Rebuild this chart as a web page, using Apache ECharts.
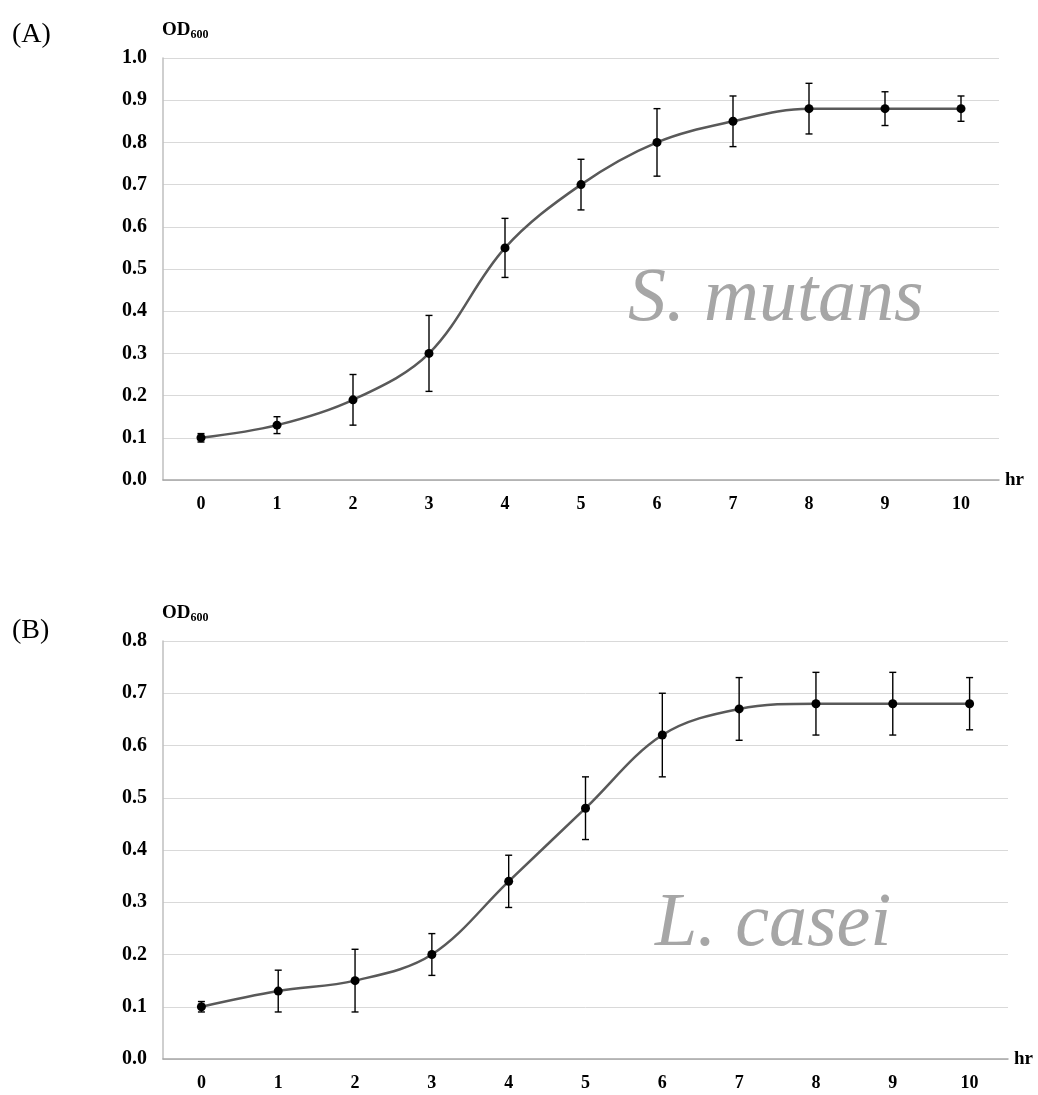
<!DOCTYPE html>
<html>
<head>
<meta charset="utf-8">
<script src="https://cdn.jsdelivr.net/npm/echarts@6/dist/echarts.min.js"></script>
<style>
html,body{margin:0;padding:0;background:#fff;}
#c{width:1038px;height:1095px;}
</style>
</head>
<body>
<div id="c"></div>
<script>
const hours = ['0','1','2','3','4','5','6','7','8','9','10'];

const mutansMean = [0.10, 0.13, 0.19, 0.30, 0.55, 0.70, 0.80, 0.85, 0.88, 0.88, 0.88];
const mutansLow  = [0.09, 0.11, 0.13, 0.21, 0.48, 0.64, 0.72, 0.79, 0.82, 0.84, 0.85];
const mutansHigh = [0.11, 0.15, 0.25, 0.39, 0.62, 0.76, 0.88, 0.91, 0.94, 0.92, 0.91];

const caseiMean = [0.10, 0.13, 0.15, 0.20, 0.34, 0.48, 0.62, 0.67, 0.68, 0.68, 0.68];
const caseiLow  = [0.09, 0.09, 0.09, 0.16, 0.29, 0.42, 0.54, 0.61, 0.62, 0.62, 0.63];
const caseiHigh = [0.11, 0.17, 0.21, 0.24, 0.39, 0.54, 0.70, 0.73, 0.74, 0.74, 0.73];

const yTicksA = {min: 0, max: 1.0, interval: 0.1};
const yTicksB = {min: 0, max: 0.8, interval: 0.1};

const FONT = "'Liberation Serif','Times New Roman',serif";

function errData(low, high) {
  return hours.map((h, i) => [i, low[i], high[i]]);
}

function errRender(params, api) {
  const x = api.value(0);
  const lo = api.coord([x, api.value(1)]);
  const hi = api.coord([x, api.value(2)]);
  const cap = 3.5;
  const st = {stroke: '#000', lineWidth: 1.4};
  return {
    type: 'group',
    children: [
      {type: 'line', shape: {x1: lo[0], y1: lo[1], x2: hi[0], y2: hi[1]}, style: st},
      {type: 'line', shape: {x1: lo[0]-cap, y1: lo[1], x2: lo[0]+cap, y2: lo[1]}, style: st},
      {type: 'line', shape: {x1: hi[0]-cap, y1: hi[1], x2: hi[0]+cap, y2: hi[1]}, style: st}
    ]
  };
}

function xAxisCfg(gi) {
  return {
    type: 'category', gridIndex: gi, data: hours, boundaryGap: true,
    axisTick: {show: false},
    axisLine: {lineStyle: {color: '#a6a6a6', width: 1.5}},
    axisLabel: {color: '#000', fontFamily: FONT, fontWeight: 'bold', fontSize: 18, margin: 15},
    name: 'hr', nameLocation: 'end', nameGap: 6,
    nameTextStyle: {color: '#000', fontFamily: FONT, fontWeight: 'bold', fontSize: 19, verticalAlign: 'middle'}
  };
}

function yAxisCfg(gi, t) {
  return {
    type: 'value', gridIndex: gi, min: t.min, max: t.max, interval: t.interval,
    axisLine: {show: true, lineStyle: {color: '#bfbfbf', width: 1.5}},
    axisTick: {show: false},
    splitLine: {lineStyle: {color: '#d9d9d9', width: 1}},
    axisLabel: {color: '#000', fontFamily: FONT, fontWeight: 'bold', fontSize: 20, margin: 16,
      formatter: v => v.toFixed(1)},
    name: '{a|OD}{b|600}', nameLocation: 'end', nameGap: 17,
    nameTextStyle: {
      align: 'left', padding: [0, 0, 0, -1],
      rich: {
        a: {fontFamily: FONT, fontWeight: 'bold', fontSize: 19, color: '#000'},
        b: {fontFamily: FONT, fontWeight: 'bold', fontSize: 12, color: '#000', padding: [9, 0, 0, 0]}
      }
    }
  };
}

function lineSeries(gi, data) {
  return {
    type: 'line', xAxisIndex: gi, yAxisIndex: gi, data: data,
    smooth: 0.35, symbol: 'circle', symbolSize: 9,
    lineStyle: {color: '#595959', width: 2.5},
    itemStyle: {color: '#000'}, z: 3, animation: false
  };
}

function errSeries(gi, low, high) {
  return {
    type: 'custom', xAxisIndex: gi, yAxisIndex: gi, data: errData(low, high),
    renderItem: errRender, z: 2, animation: false, silent: true
  };
}

const chart = echarts.init(document.getElementById('c'), null, {renderer: 'canvas'});
chart.setOption({
  animation: false,
  backgroundColor: '#fff',
  grid: [
    {left: 163, top: 58, width: 836, height: 422},
    {left: 163, top: 641, width: 845, height: 418}
  ],
  xAxis: [xAxisCfg(0), xAxisCfg(1)],
  yAxis: [yAxisCfg(0, yTicksA), yAxisCfg(1, yTicksB)],
  graphic: [
    {type: 'text', left: 12, top: 21, style: {text: '(A)', font: "28px " + FONT, fill: '#000'}},
    {type: 'text', left: 12, top: 617, style: {text: '(B)', font: "28px " + FONT, fill: '#000'}},
    {type: 'text', x: 628, y: 300, z: 1, style: {text: 'S. mutans', font: "italic 76px " + FONT, fill: '#a6a6a6', verticalAlign: 'middle'}},
    {type: 'text', x: 655, y: 925, z: 1, style: {text: 'L. casei', font: "italic 76px " + FONT, fill: '#a6a6a6', verticalAlign: 'middle'}}
  ],
  series: [
    errSeries(0, mutansLow, mutansHigh),
    lineSeries(0, mutansMean),
    errSeries(1, caseiLow, caseiHigh),
    lineSeries(1, caseiMean)
  ]
});
</script>
</body>
</html>
